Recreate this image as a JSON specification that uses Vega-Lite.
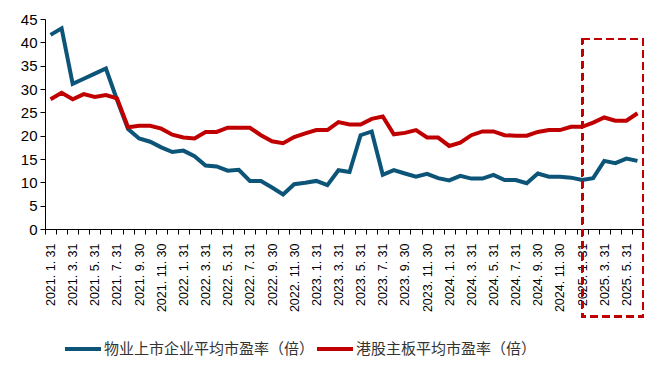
{
  "$schema": "https://vega.github.io/schema/vega-lite/v6.json",
  "width": 598,
  "height": 210,
  "autosize": {"type": "none"},
  "padding": {"left": 45, "top": 19, "right": 17, "bottom": 137},
  "background": "white",
  "config": {"view": {"stroke": null}, "font": "Liberation Sans"},
  "data": {"values": [
    {"date": "2021. 1. 31", "物业上市企业平均市盈率（倍）": 41.6, "港股主板平均市盈率（倍）": 27.8},
    {"date": "2021. 2. 28", "物业上市企业平均市盈率（倍）": 43.0, "港股主板平均市盈率（倍）": 29.2},
    {"date": "2021. 3. 31", "物业上市企业平均市盈率（倍）": 31.1, "港股主板平均市盈率（倍）": 27.8},
    {"date": "2021. 4. 30", "物业上市企业平均市盈率（倍）": 32.2, "港股主板平均市盈率（倍）": 28.9},
    {"date": "2021. 5. 31", "物业上市企业平均市盈率（倍）": 33.3, "港股主板平均市盈率（倍）": 28.3},
    {"date": "2021. 6. 30", "物业上市企业平均市盈率（倍）": 34.4, "港股主板平均市盈率（倍）": 28.7},
    {"date": "2021. 7. 31", "物业上市企业平均市盈率（倍）": 27.7, "港股主板平均市盈率（倍）": 28.0},
    {"date": "2021. 8. 31", "物业上市企业平均市盈率（倍）": 21.4, "港股主板平均市盈率（倍）": 21.8},
    {"date": "2021. 9. 30", "物业上市企业平均市盈率（倍）": 19.4, "港股主板平均市盈率（倍）": 22.1},
    {"date": "2021. 10. 31", "物业上市企业平均市盈率（倍）": 18.7, "港股主板平均市盈率（倍）": 22.1},
    {"date": "2021. 11. 30", "物业上市企业平均市盈率（倍）": 17.5, "港股主板平均市盈率（倍）": 21.5},
    {"date": "2021. 12. 31", "物业上市企业平均市盈率（倍）": 16.5, "港股主板平均市盈率（倍）": 20.2},
    {"date": "2022. 1. 31", "物业上市企业平均市盈率（倍）": 16.8, "港股主板平均市盈率（倍）": 19.6},
    {"date": "2022. 2. 28", "物业上市企业平均市盈率（倍）": 15.6, "港股主板平均市盈率（倍）": 19.4},
    {"date": "2022. 3. 31", "物业上市企业平均市盈率（倍）": 13.6, "港股主板平均市盈率（倍）": 20.8},
    {"date": "2022. 4. 30", "物业上市企业平均市盈率（倍）": 13.4, "港股主板平均市盈率（倍）": 20.8},
    {"date": "2022. 5. 31", "物业上市企业平均市盈率（倍）": 12.5, "港股主板平均市盈率（倍）": 21.7},
    {"date": "2022. 6. 30", "物业上市企业平均市盈率（倍）": 12.7, "港股主板平均市盈率（倍）": 21.7},
    {"date": "2022. 7. 31", "物业上市企业平均市盈率（倍）": 10.3, "港股主板平均市盈率（倍）": 21.7},
    {"date": "2022. 8. 31", "物业上市企业平均市盈率（倍）": 10.3, "港股主板平均市盈率（倍）": 20.1},
    {"date": "2022. 9. 30", "物业上市企业平均市盈率（倍）": 8.9, "港股主板平均市盈率（倍）": 18.8},
    {"date": "2022. 10. 31", "物业上市企业平均市盈率（倍）": 7.4, "港股主板平均市盈率（倍）": 18.4},
    {"date": "2022. 11. 30", "物业上市企业平均市盈率（倍）": 9.6, "港股主板平均市盈率（倍）": 19.7},
    {"date": "2022. 12. 31", "物业上市企业平均市盈率（倍）": 9.9, "港股主板平均市盈率（倍）": 20.5},
    {"date": "2023. 1. 31", "物业上市企业平均市盈率（倍）": 10.3, "港股主板平均市盈率（倍）": 21.2},
    {"date": "2023. 2. 28", "物业上市企业平均市盈率（倍）": 9.4, "港股主板平均市盈率（倍）": 21.2},
    {"date": "2023. 3. 31", "物业上市企业平均市盈率（倍）": 12.6, "港股主板平均市盈率（倍）": 22.9},
    {"date": "2023. 4. 30", "物业上市企业平均市盈率（倍）": 12.2, "港股主板平均市盈率（倍）": 22.4},
    {"date": "2023. 5. 31", "物业上市企业平均市盈率（倍）": 20.1, "港股主板平均市盈率（倍）": 22.4},
    {"date": "2023. 6. 30", "物业上市企业平均市盈率（倍）": 20.9, "港股主板平均市盈率（倍）": 23.6},
    {"date": "2023. 7. 31", "物业上市企业平均市盈率（倍）": 11.6, "港股主板平均市盈率（倍）": 24.1},
    {"date": "2023. 8. 31", "物业上市企业平均市盈率（倍）": 12.6, "港股主板平均市盈率（倍）": 20.3},
    {"date": "2023. 9. 30", "物业上市企业平均市盈率（倍）": 11.9, "港股主板平均市盈率（倍）": 20.6},
    {"date": "2023. 10. 31", "物业上市企业平均市盈率（倍）": 11.2, "港股主板平均市盈率（倍）": 21.2},
    {"date": "2023. 11. 30", "物业上市企业平均市盈率（倍）": 11.8, "港股主板平均市盈率（倍）": 19.6},
    {"date": "2023. 12. 31", "物业上市企业平均市盈率（倍）": 10.9, "港股主板平均市盈率（倍）": 19.6},
    {"date": "2024. 1. 31", "物业上市企业平均市盈率（倍）": 10.4, "港股主板平均市盈率（倍）": 17.8},
    {"date": "2024. 2. 29", "物业上市企业平均市盈率（倍）": 11.4, "港股主板平均市盈率（倍）": 18.5},
    {"date": "2024. 3. 31", "物业上市企业平均市盈率（倍）": 10.8, "港股主板平均市盈率（倍）": 20.1},
    {"date": "2024. 4. 30", "物业上市企业平均市盈率（倍）": 10.8, "港股主板平均市盈率（倍）": 20.9},
    {"date": "2024. 5. 31", "物业上市企业平均市盈率（倍）": 11.6, "港股主板平均市盈率（倍）": 20.9},
    {"date": "2024. 6. 30", "物业上市企业平均市盈率（倍）": 10.5, "港股主板平均市盈率（倍）": 20.1},
    {"date": "2024. 7. 31", "物业上市企业平均市盈率（倍）": 10.5, "港股主板平均市盈率（倍）": 20.0},
    {"date": "2024. 8. 31", "物业上市企业平均市盈率（倍）": 9.8, "港股主板平均市盈率（倍）": 20.0},
    {"date": "2024. 9. 30", "物业上市企业平均市盈率（倍）": 11.9, "港股主板平均市盈率（倍）": 20.8},
    {"date": "2024. 10. 31", "物业上市企业平均市盈率（倍）": 11.2, "港股主板平均市盈率（倍）": 21.2},
    {"date": "2024. 11. 30", "物业上市企业平均市盈率（倍）": 11.2, "港股主板平均市盈率（倍）": 21.2},
    {"date": "2024. 12. 31", "物业上市企业平均市盈率（倍）": 11.0, "港股主板平均市盈率（倍）": 21.9},
    {"date": "2025. 1. 31", "物业上市企业平均市盈率（倍）": 10.5, "港股主板平均市盈率（倍）": 21.9},
    {"date": "2025. 2. 28", "物业上市企业平均市盈率（倍）": 10.9, "港股主板平均市盈率（倍）": 22.8},
    {"date": "2025. 3. 31", "物业上市企业平均市盈率（倍）": 14.6, "港股主板平均市盈率（倍）": 23.9},
    {"date": "2025. 4. 30", "物业上市企业平均市盈率（倍）": 14.1, "港股主板平均市盈率（倍）": 23.2},
    {"date": "2025. 5. 31", "物业上市企业平均市盈率（倍）": 15.1, "港股主板平均市盈率（倍）": 23.2},
    {"date": "2025. 6. 30", "物业上市企业平均市盈率（倍）": 14.6, "港股主板平均市盈率（倍）": 24.8}
  ]},
  "layer": [
    {
      "transform": [{"fold": ["物业上市企业平均市盈率（倍）", "港股主板平均市盈率（倍）"], "as": ["series", "value"]}],
      "mark": {"type": "line", "strokeWidth": 4, "strokeJoin": "miter"},
      "encoding": {
        "x": {
          "field": "date", "type": "ordinal", "sort": null, "bandPosition": 0.5,
          "scale": {"type": "band", "paddingInner": 0, "paddingOuter": 0},
          "axis": {
            "title": null, "grid": false, "labelAngle": -90, "labelFont": "Liberation Sans", "labelFontSize": 12.5,
            "labelColor": "#000000", "tickBand": "extent", "tickSize": 5, "tickColor": "#000000", "tickWidth": 1,
            "domainColor": "#000000", "domainWidth": 1, "labelOverlap": "parity", "labelSeparation": 4, "labelPadding": 9
          }
        },
        "y": {
          "field": "value", "type": "quantitative",
          "scale": {"domain": [0, 45], "nice": false},
          "axis": {
            "title": null, "grid": false, "values": [0, 5, 10, 15, 20, 25, 30, 35, 40, 45],
            "labelOverlap": false, "labelFlush": false,
            "labelFont": "Liberation Sans", "labelFontSize": 15, "labelColor": "#000000",
            "tickSize": 5, "tickColor": "#000000", "domainColor": "#000000", "labelPadding": 3
          }
        },
        "color": {
          "field": "series", "type": "nominal",
          "scale": {"domain": ["物业上市企业平均市盈率（倍）", "港股主板平均市盈率（倍）"], "range": ["#0C5578", "#C00000"]},
          "legend": {
            "orient": "none", "legendX": 18, "legendY": 310, "direction": "horizontal", "title": null,
            "symbolType": "stroke", "symbolStrokeWidth": 4, "symbolSize": 1296,
            "labelFont": "Noto Sans CJK SC", "labelFontSize": 15, "labelColor": "#333333",
            "labelOffset": 1, "columnPadding": -20, "labelLimit": 400
          }
        }
      }
    },
    {
      "mark": {"type": "rect", "fillOpacity": 0, "fill": "white", "stroke": "#C00000", "strokeWidth": 2, "strokeDash": [7, 5], "clip": false},
      "encoding": {
        "x": {
          "datum": "2025. 1. 31", "bandPosition": 0.5,
          "axis": {
            "title": null, "grid": false, "labelAngle": -90, "labelFont": "Liberation Sans", "labelFontSize": 12.5,
            "labelColor": "#000000", "tickBand": "extent", "tickSize": 5, "tickColor": "#000000", "tickWidth": 1,
            "domainColor": "#000000", "domainWidth": 1, "labelOverlap": "parity", "labelSeparation": 4, "labelPadding": 9
          }
        },
        "x2": {"datum": "2025. 6. 30", "bandPosition": 1},
        "y": {
          "datum": 40.7,
          "axis": {
            "title": null, "grid": false, "values": [0, 5, 10, 15, 20, 25, 30, 35, 40, 45],
            "labelOverlap": false, "labelFlush": false,
            "labelFont": "Liberation Sans", "labelFontSize": 15, "labelColor": "#000000",
            "tickSize": 5, "tickColor": "#000000", "domainColor": "#000000", "labelPadding": 3
          }
        },
        "y2": {"datum": -18.8}
      }
    }
  ]
}
